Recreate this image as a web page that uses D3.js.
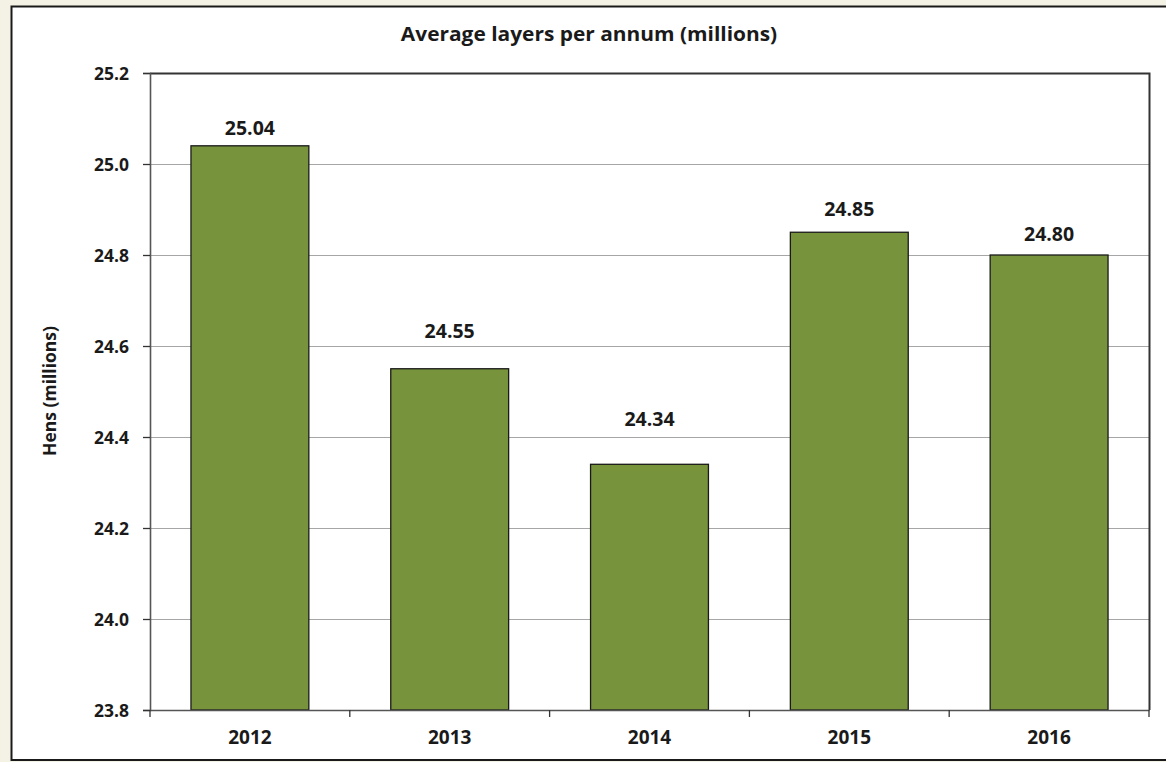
<!DOCTYPE html>
<html>
<head>
<meta charset="utf-8">
<script src="https://cdn.jsdelivr.net/npm/d3@7/dist/d3.min.js"></script>
<style>
  html, body { margin: 0; padding: 0; background: #f4f2e4; }
  svg { display: block; }
  text { font-family: "Open Sans", Lato, sans-serif; font-weight: bold; fill: #1a1a1a; }
</style>
</head>
<body>
<script>
const years = ["2012", "2013", "2014", "2015", "2016"];
const hens = [25.04, 24.55, 24.34, 24.85, 24.80];
const valueLabels = ["25.04", "24.55", "24.34", "24.85", "24.80"];
const yTicks = [23.8, 24.0, 24.2, 24.4, 24.6, 24.8, 25.0, 25.2];
const labelLift = [11, 31, 38, 16, 14];

const W = 1166, H = 762;
const m = { left: 150, top: 73, right: 1149, bottom: 710 };
const FONT = '"Open Sans", Lato, sans-serif';

const svg = d3.select("body").append("svg").attr("width", W).attr("height", H);

// panel
svg.append("rect").attr("x", 11.5).attr("y", 6.5).attr("width", W).attr("height", 753.5)
  .attr("fill", "#ffffff").attr("stroke", "#1a1a1a").attr("stroke-width", 2);

const x = d3.scaleBand().domain(years).range([m.left, m.right]).paddingInner(0.41).paddingOuter(0.205);
const y = d3.scaleLinear().domain([23.8, 25.2]).range([m.bottom, m.top]);

// gridlines
svg.append("g").selectAll("line").data(yTicks.slice(1, -1)).join("line")
  .attr("x1", m.left).attr("x2", m.right)
  .attr("y1", d => Math.round(y(d)) + 0.5).attr("y2", d => Math.round(y(d)) + 0.5)
  .attr("stroke", "#a6a6a6").attr("stroke-width", 1.2);

// plot border (top and right)
svg.append("path")
  .attr("d", `M${m.left},${m.top + 0.5}H${m.right + 0.5}V${m.bottom}`)
  .attr("fill", "none").attr("stroke", "#333").attr("stroke-width", 2);

// bars
svg.append("g").selectAll("rect").data(hens).join("rect")
  .attr("x", (d, i) => x(years[i]))
  .attr("width", x.bandwidth())
  .attr("y", d => y(d))
  .attr("height", d => y(23.8) - y(d))
  .attr("fill", "#77933c").attr("stroke", "#1a1a1a").attr("stroke-width", 1.3);

// value labels
svg.append("g").selectAll("text").data(hens).join("text")
  .attr("x", (d, i) => x(years[i]) + x.bandwidth() / 2)
  .attr("y", (d, i) => y(d) - labelLift[i])
  .attr("text-anchor", "middle").attr("font-size", 19.5)
  .text((d, i) => valueLabels[i]);

// y axis
const yAxis = d3.axisLeft(y).tickValues(yTicks).tickFormat(d3.format(".1f")).tickSize(7).tickPadding(14);
const gy = svg.append("g").attr("transform", `translate(${m.left},0)`).call(yAxis);
gy.select(".domain").attr("stroke", "#555").attr("stroke-width", 1.6);
gy.selectAll(".tick line").attr("stroke", "#333").attr("stroke-width", 1.3);
gy.selectAll(".tick text").attr("font-size", 17.5).attr("font-family", FONT).attr("fill", "#1a1a1a").attr("dy", "0.36em");

// x axis
const xAxis = d3.axisBottom(x).tickSize(0).tickPadding(21);
const gx = svg.append("g").attr("transform", `translate(0,${m.bottom})`).call(xAxis);
gx.select(".domain").attr("stroke", "#555").attr("stroke-width", 1.6);
gx.selectAll(".tick text").attr("font-size", 19).attr("font-family", FONT).attr("fill", "#1a1a1a");

// x tick marks between categories
const bounds = d3.range(years.length + 1).map(i => m.left + i * (m.right - m.left) / years.length);
svg.append("g").selectAll("line").data(bounds).join("line")
  .attr("x1", d => d).attr("x2", d => d)
  .attr("y1", m.bottom).attr("y2", m.bottom + 7)
  .attr("stroke", "#333").attr("stroke-width", 1.3);

// title
svg.append("text").attr("transform", "translate(589,41) scale(1.1,1)").attr("text-anchor", "middle")
  .attr("font-size", 19).text("Average layers per annum (millions)");

// y axis title
svg.append("text").attr("transform", `translate(56,391) rotate(-90)`)
  .attr("text-anchor", "middle").attr("font-size", 17.5).text("Hens (millions)");
</script>
</body>
</html>
